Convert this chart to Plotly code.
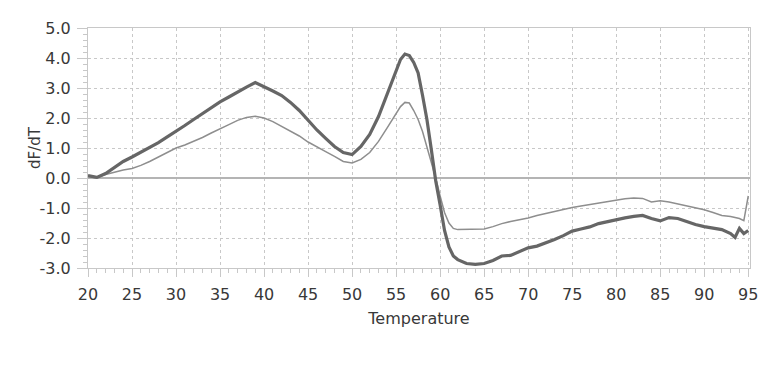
import plotly.graph_objects as go

temps = [20, 21, 22, 23, 24, 25, 26, 27, 28, 29, 30, 31, 32, 33, 34, 35, 36, 37, 38, 39,
         40, 41, 42, 43, 44, 45, 46, 47, 48, 49, 50, 51, 52, 53, 54, 55, 55.5, 56, 56.5, 57,
         57.5, 58, 58.5, 59, 59.5, 60, 60.5, 61, 61.5, 62, 63, 64, 65, 66, 67, 68, 69, 70,
         71, 72, 73, 74, 75, 76, 77, 78, 79, 80, 81, 82, 83, 84, 85, 86, 87, 88, 89, 90,
         91, 92, 93, 93.5, 94, 94.5, 95]

sample_a = [0.08, 0.02, 0.15, 0.35, 0.55, 0.70, 0.85, 1.00, 1.18, 1.37, 1.55, 1.75, 1.95, 2.15,
            2.35, 2.54, 2.70, 2.88, 3.03, 3.18, 3.05, 2.90, 2.75, 2.52, 2.25, 1.93, 1.60, 1.32,
            1.05, 0.85, 0.78, 1.05, 1.45, 2.05, 2.80, 3.55, 3.95, 4.13, 4.08, 3.85, 3.50, 2.76,
            1.95, 0.95, -0.10, -0.90, -1.75, -2.30, -2.60, -2.72, -2.85, -2.88, -2.85, -2.75,
            -2.60, -2.58, -2.45, -2.33, -2.27, -2.17, -2.05, -1.92, -1.77, -1.70, -1.63, -1.52,
            -1.45, -1.40, -1.33, -1.28, -1.25, -1.35, -1.43, -1.32, -1.35, -1.45, -1.55, -1.62,
            -1.68, -1.72, -1.85, -1.98, -1.68, -1.85, -1.75]

sample_b = [0.05, 0.00, 0.12, 0.20, 0.27, 0.32, 0.42, 0.55, 0.70, 0.85, 1.00, 1.10, 1.22, 1.35,
            1.50, 1.65, 1.78, 1.92, 2.02, 2.06, 2.00, 1.88, 1.72, 1.57, 1.40, 1.20, 1.03, 0.88,
            0.72, 0.55, 0.50, 0.62, 0.85, 1.22, 1.68, 2.15, 2.38, 2.52, 2.50, 2.25, 1.95, 1.55,
            1.05, 0.55, 0.00, -0.60, -1.15, -1.50, -1.68, -1.72, -1.72, -1.70, -1.70, -1.62,
            -1.52, -1.45, -1.40, -1.33, -1.25, -1.18, -1.10, -1.05, -0.98, -0.93, -0.88, -0.84,
            -0.78, -0.72, -0.69, -0.67, -0.68, -0.80, -0.76, -0.80, -0.86, -0.92, -0.98, -1.06,
            -1.15, -1.25, -1.28, -1.32, -1.35, -1.42, -0.60]

x_ticks = [20, 25, 30, 35, 40, 45, 50, 55, 60, 65, 70, 75, 80, 85, 90, 95]
y_ticks = [-3, -2, -1, 0, 1, 2, 3, 4, 5]
y_tick_text = ["-3.0", "-2.0", "-1.0", "0.0", "1.0", "2.0", "3.0", "4.0", "5.0"]
x_title = "Temperature"
y_title = "dF/dT"

FONT = "DejaVu Sans"
GRID = "#c8c8c8"
TXT = "#383838"

fig = go.Figure()
fig.add_trace(go.Scatter(x=temps, y=sample_b, mode="lines",
                         line=dict(color="#8e8e8e", width=1.5), showlegend=False))
fig.add_trace(go.Scatter(x=temps, y=sample_a, mode="lines",
                         line=dict(color="#666666", width=3.2), showlegend=False))

# page body has an 8px default margin, so the figure is sized to fit the window
fig.update_layout(
    width=775, height=357,
    margin=dict(l=80, r=33, t=11, b=97),
    paper_bgcolor="white", plot_bgcolor="white",
    font=dict(family=FONT, size=16, color=TXT),
    xaxis=dict(
        range=[20, 95.2], tickvals=x_ticks, ticktext=[str(v) for v in x_ticks],
        showgrid=True, gridcolor=GRID, griddash="dot", gridwidth=1,
        showline=True, mirror=True, linecolor=GRID, linewidth=1,
        ticks="outside", ticklen=8, tickcolor=GRID, ticklabelstandoff=4,
        minor=dict(dtick=1, ticks="outside", ticklen=4, tickcolor=GRID, showgrid=False),
        zeroline=False, tickfont=dict(size=16, color=TXT),
        title=dict(text=x_title, font=dict(size=16, color=TXT), standoff=9),
    ),
    yaxis=dict(
        range=[-3, 5], tickvals=y_ticks, ticktext=y_tick_text,
        showgrid=True, gridcolor=GRID, griddash="dot", gridwidth=1,
        showline=True, mirror=True, linecolor=GRID, linewidth=1,
        ticks="outside", ticklen=10, tickcolor=GRID, ticklabelstandoff=3,
        minor=dict(dtick=0.2, ticks="outside", ticklen=4, tickcolor=GRID, showgrid=False),
        zeroline=True, zerolinecolor="#b4b4b4", zerolinewidth=1.5,
        tickfont=dict(size=16, color=TXT),
    ),
    annotations=[dict(text=y_title, textangle=-90, xref="paper", yref="paper",
                      x=-0.08, y=0.5, xanchor="center", yanchor="middle",
                      showarrow=False, font=dict(size=15, color=TXT))],
)

fig.write_html("out.html")
